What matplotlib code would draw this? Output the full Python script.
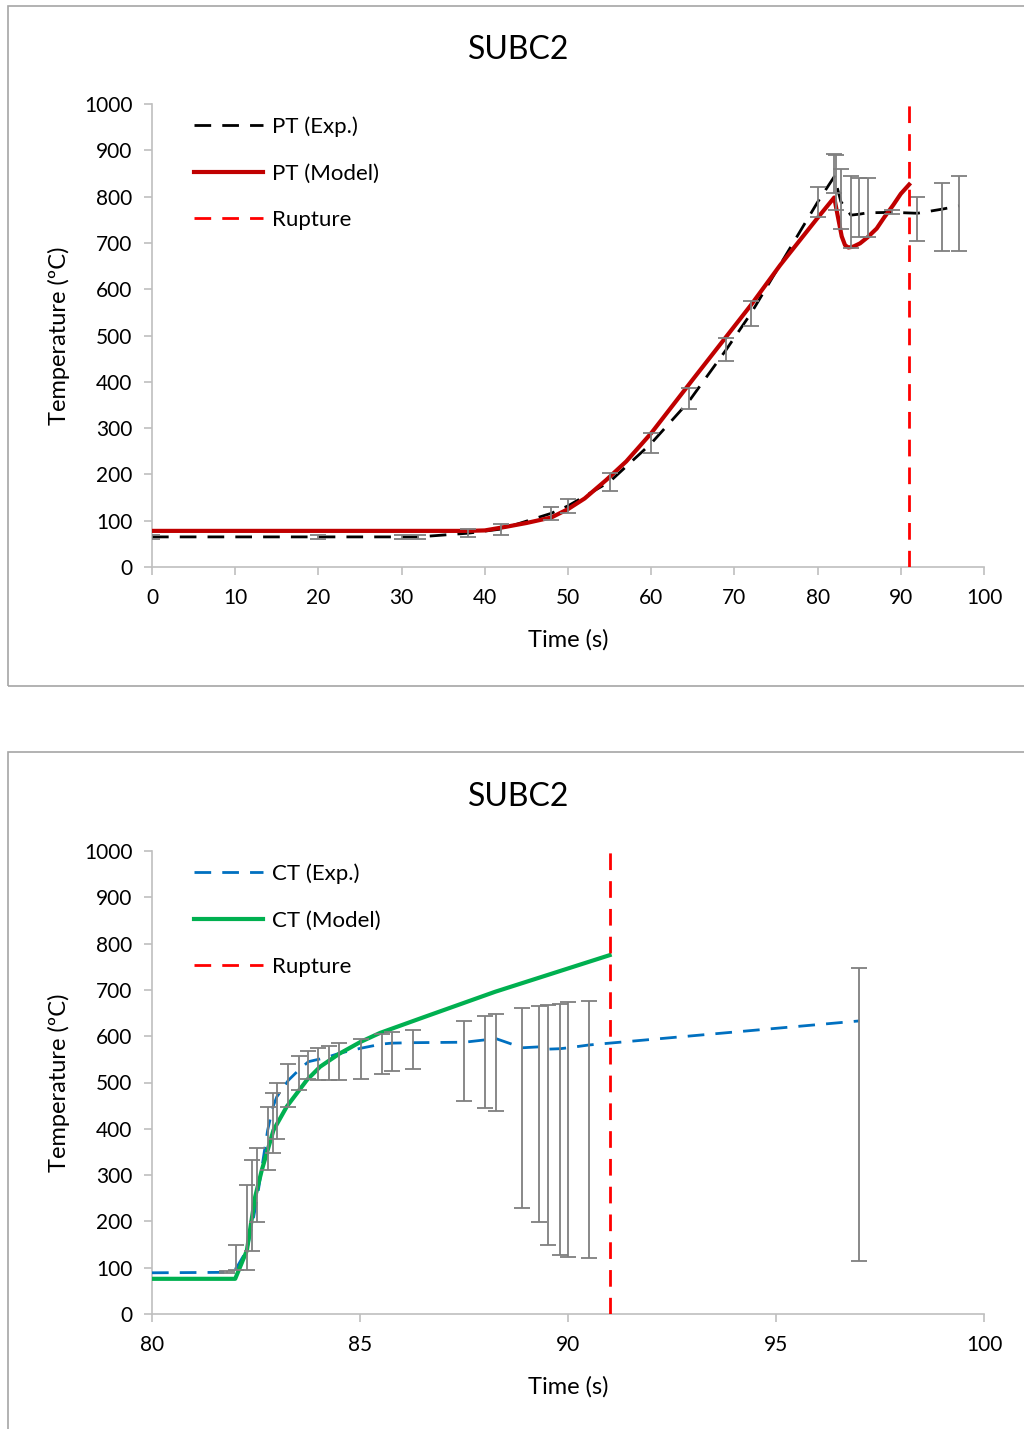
import matplotlib
matplotlib.use('Agg')
import matplotlib.pyplot as plt
from matplotlib.patches import Rectangle
import numpy as np

plt.rcParams['font.family'] = ['Lato', 'DejaVu Sans']

# ---- top panel: PT ----
pt_exp_t = [0, 20, 30, 32, 38, 42, 48, 50, 55, 60, 64.5, 69, 72, 80, 82, 82.2, 82.8,
            84, 85, 86, 89, 92, 95, 97]
pt_exp_T = [65, 65, 65, 65, 73, 82, 116, 132, 184, 267, 357, 469, 548, 788, 843, 830, 789,
            760, 762, 765, 766, 764, 773, 780]
pt_err_lo = [60, 60, 60, 60, 65, 70, 101, 116, 165, 246, 341, 446, 521, 755, 807, 770, 729,
             690, 713, 713, 762, 705, 683, 683]
pt_err_hi = [70, 70, 70, 70, 81, 93, 130, 147, 202, 289, 386, 494, 575, 820, 893, 890, 859,
             845, 840, 840, 770, 800, 830, 845]

pt_model_t = [0, 38, 40, 42.6, 45, 48, 50, 52, 54.6, 57, 60, 65, 69, 72, 75.5, 80, 82,
              82.4, 82.9, 83.3, 83.7, 84.3, 85.1, 86, 87.1, 88, 89.1, 90, 91]
pt_model_T = [78, 78, 79, 87, 95, 107, 125, 148, 188, 228, 289, 405, 497, 566, 652, 754, 798,
              760, 714, 695, 690, 692, 699, 712, 731, 755, 782, 806, 826]

# ---- bottom panel: CT ----
ct_exp_t = [80, 81.81, 82.02, 82.28, 82.40, 82.52, 82.78, 82.91, 83.0, 83.28, 83.53, 83.76,
            84.0, 84.26, 84.5, 85.02, 85.52, 85.76, 86.27, 87.51, 88.0, 88.26, 88.9, 89.31,
            89.51, 89.81, 90.01, 90.5, 97]
ct_exp_T = [89, 90, 98, 138, 189, 246, 397, 448, 469, 505, 527, 545,
            550, 556, 563, 574, 583, 585, 586, 587, 592, 595, 575, 577,
            572, 573, 575, 581, 633]
# error bars (no bar on the first point)
ct_err_lo = [89, 95, 95, 135, 199, 310, 348, 379, 448, 484, 508,
             505, 505, 505, 508, 519, 524, 529, 459, 444, 439, 229, 199,
             148, 128, 124, 121, 114]
ct_err_hi = [93, 149, 279, 333, 359, 448, 478, 498, 539, 558, 569,
             574, 579, 585, 593, 604, 608, 613, 633, 643, 648, 661, 665,
             668, 670, 673, 677, 747]

ct_model_t = [80, 82.0, 82.28, 82.48, 82.64, 82.92, 83.24, 83.72, 84.04, 84.5, 85.02, 85.48,
              86.5, 88.25, 91]
ct_model_T = [76, 76, 137, 253, 311, 397, 448, 505, 534, 562, 588, 607,
              640, 696, 775]

rupture_t = 91

fig = plt.figure(figsize=(10.24, 14.29), dpi=100)
W, H = 1024, 1429
dash = (0, (6, 4))

# panel frames
for top, bot in [(6, 686), (752, 1432)]:
    fig.patches.append(Rectangle((8 / W, 1 - bot / H), 1.1, (bot - top) / H,
                                 transform=fig.transFigure, fill=False,
                                 edgecolor='#a6a6a6', linewidth=1.2))

def style_axes(ax, xlim, xticks):
    ax.set_xlim(*xlim)
    ax.set_ylim(0, 1000)
    ax.set_xticks(xticks)
    ax.set_yticks(range(0, 1001, 100))
    for s in ['top', 'right']:
        ax.spines[s].set_visible(False)
    for s in ['left', 'bottom']:
        ax.spines[s].set_color('#bfbfbf')
        ax.spines[s].set_linewidth(1.2)
    ax.tick_params(axis='both', colors='#bfbfbf', labelcolor='black', labelsize=15,
                   length=6, width=1.2)
    ax.tick_params(axis='x', pad=9)
    ax.tick_params(axis='y', pad=8)
    ax.set_xlabel('Time (s)', fontsize=17, labelpad=15)
    ax.set_ylabel('Temperature (ºC)', fontsize=17, labelpad=10)

def add_errorbars(ax, t, v, lo, hi):
    t = np.asarray(t)
    v = np.asarray(v)
    yerr = [v - np.asarray(lo), np.asarray(hi) - v]
    ax.errorbar(t, v, yerr=yerr, fmt='none', ecolor='#7f7f7f', elinewidth=1.3,
                capsize=6, capthick=1.3, zorder=4)

def add_legend(ax):
    ax.legend(loc='upper left', bbox_to_anchor=(0.027, 1.017), frameon=False, fontsize=16,
              handlelength=3.1, labelspacing=1.2, handletextpad=0.4)

# top
ax1 = fig.add_axes([152 / W, 1 - 567 / H, 832 / W, 463 / H])
style_axes(ax1, (0, 100), range(0, 101, 10))
ax1.plot(pt_exp_t, pt_exp_T, color='black', linestyle=dash, linewidth=2,
         label='PT (Exp.)', zorder=3)
add_errorbars(ax1, pt_exp_t, pt_exp_T, pt_err_lo, pt_err_hi)
ax1.plot(pt_model_t, pt_model_T, color='#C00000', linewidth=3, label='PT (Model)', zorder=3)
ax1.plot([rupture_t, rupture_t], [0, 1000], color='#FF0000', linestyle=dash,
         linewidth=2, label='Rupture', zorder=5)
add_legend(ax1)
fig.text(519 / W, 1 - 50 / H, 'SUBC2', fontsize=23, ha='center', va='center')

# bottom
ax2 = fig.add_axes([152 / W, 1 - 1314 / H, 832 / W, 463 / H])
style_axes(ax2, (80, 100), range(80, 101, 5))
ax2.plot(ct_exp_t, ct_exp_T, color='#0070C0', linestyle=dash, linewidth=2,
         label='CT (Exp.)', zorder=3)
add_errorbars(ax2, ct_exp_t[1:], ct_exp_T[1:], ct_err_lo, ct_err_hi)
ax2.plot(ct_model_t, ct_model_T, color='#00B050', linewidth=3, label='CT (Model)', zorder=3)
ax2.plot([rupture_t, rupture_t], [0, 1000], color='#FF0000', linestyle=dash,
         linewidth=2, label='Rupture', zorder=5)
add_legend(ax2)
fig.text(519 / W, 1 - 797 / H, 'SUBC2', fontsize=23, ha='center', va='center')

fig.savefig('out.png', dpi=100)
